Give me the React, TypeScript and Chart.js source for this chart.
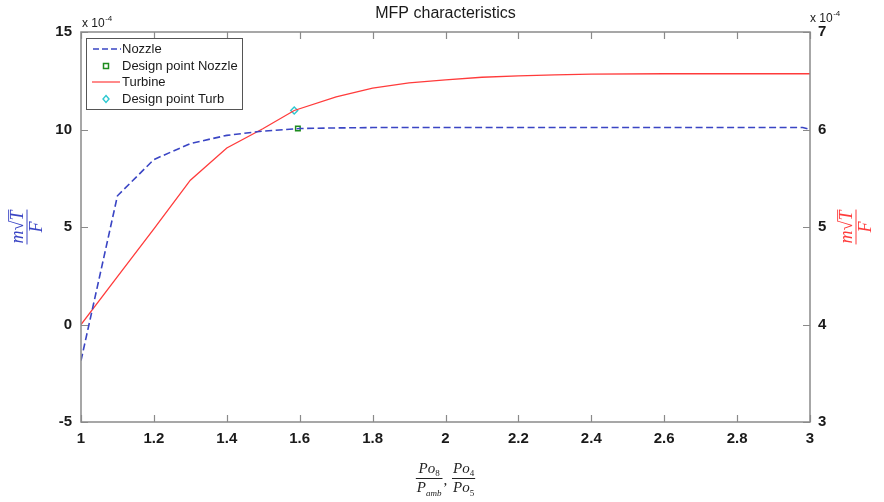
import React, { useEffect, useRef } from "react";
import { Chart, registerables } from "chart.js";

Chart.register(...registerables);

// ---- data (values in units of 1e-4) ----
const nozzleX = [1, 1.1, 1.2, 1.3, 1.4, 1.5, 1.6, 1.7, 1.8, 2.0, 2.2, 2.4, 2.6, 2.8, 2.98, 3.0];
const nozzleValues = [-1.85, 6.6, 8.46, 9.28, 9.7, 9.92, 10.05, 10.08, 10.1, 10.1, 10.1, 10.1, 10.1, 10.1, 10.1, 10.0];

const turbineX = [1, 1.1, 1.2, 1.3, 1.4, 1.5, 1.585, 1.7, 1.8, 1.9, 2.0, 2.1, 2.2, 2.3, 2.4, 2.6, 2.8, 3.0];
const turbineValues = [4.0, 4.49, 4.98, 5.48, 5.81, 6.01, 6.195, 6.335, 6.425, 6.478, 6.51, 6.536, 6.55, 6.56, 6.568, 6.572, 6.572, 6.572];

const designNozzleX = [1.595];
const designNozzleValues = [10.05];
const designTurbX = [1.585];
const designTurbValues = [6.195];

const xTicks = [1, 1.2, 1.4, 1.6, 1.8, 2, 2.2, 2.4, 2.6, 2.8, 3];
const leftTicks = [-5, 0, 5, 10, 15];
const rightTicks = [3, 4, 5, 6, 7];

const titleText = "MFP characteristics";
const legendLabels = ["Nozzle", "Design point Nozzle", "Turbine", "Design point Turb"];

const BLUE = "#3a45c4";
const RED = "#ff3b3b";
const GREEN = "#1e8c1e";
const CYAN = "#2ec8d0";
const AXIS = "#8a8a8a";
const TXT = "#1a1a1a";
const SANS = '"Liberation Sans", Arial, sans-serif';
const SERIF = '"Liberation Serif", "Times New Roman", serif';

type Seg = { t: string; sub?: boolean; over?: boolean; upright?: boolean };

function segFont(s: Seg, size: number) {
  const sz = s.sub ? Math.round(size * 0.62) : size;
  return `${s.upright ? "" : "italic "}${sz}px ${SERIF}`;
}

function richWidth(ctx: CanvasRenderingContext2D, segs: Seg[], size: number) {
  let w = 0;
  for (const s of segs) {
    ctx.font = segFont(s, size);
    w += ctx.measureText(s.t).width;
  }
  return w;
}

function drawRich(ctx: CanvasRenderingContext2D, segs: Seg[], x: number, base: number, size: number) {
  let cx = x;
  ctx.textAlign = "left";
  ctx.textBaseline = "alphabetic";
  for (const s of segs) {
    ctx.font = segFont(s, size);
    const w = ctx.measureText(s.t).width;
    const y = s.sub ? base + size * 0.25 : base;
    ctx.fillText(s.t, cx, y);
    if (s.over) {
      ctx.beginPath();
      ctx.lineWidth = 0.9;
      ctx.moveTo(cx - 1, base - size * 0.8);
      ctx.lineTo(cx + w + 1, base - size * 0.8);
      ctx.stroke();
    }
    cx += w;
  }
}

function fracWidth(ctx: CanvasRenderingContext2D, num: Seg[], den: Seg[], size: number) {
  return Math.max(richWidth(ctx, num, size), richWidth(ctx, den, size)) + 2;
}

function drawFraction(
  ctx: CanvasRenderingContext2D,
  cx: number,
  cy: number,
  num: Seg[],
  den: Seg[],
  size: number,
  gapTop: number,
  gapBot: number
) {
  const nw = richWidth(ctx, num, size);
  const dw = richWidth(ctx, den, size);
  const bw = Math.max(nw, dw) + 2;
  ctx.beginPath();
  ctx.lineWidth = 1;
  ctx.moveTo(cx - bw / 2, cy);
  ctx.lineTo(cx + bw / 2, cy);
  ctx.stroke();
  drawRich(ctx, num, cx - nw / 2, cy - gapTop, size);
  drawRich(ctx, den, cx - dw / 2, cy + size * 0.72 + gapBot, size);
}

const overlay = {
  id: "overlay",
  afterDatasetsDraw(chart: any) {
    const ctx: CanvasRenderingContext2D = chart.ctx;
    const { left, right, top, bottom } = chart.chartArea;
    const xs = chart.scales.x;
    const yl = chart.scales.y;
    const yr = chart.scales.y1;
    ctx.save();

    // box
    ctx.strokeStyle = AXIS;
    ctx.lineWidth = 1.5;
    ctx.strokeRect(left, top, right - left, bottom - top);

    // inward ticks
    ctx.lineWidth = 1.2;
    ctx.beginPath();
    for (const v of xTicks) {
      const px = Math.round(xs.getPixelForValue(v)) + 0.5;
      ctx.moveTo(px, bottom);
      ctx.lineTo(px, bottom - 7);
      ctx.moveTo(px, top);
      ctx.lineTo(px, top + 7);
    }
    for (const v of leftTicks) {
      const py = Math.round(yl.getPixelForValue(v)) + 0.5;
      ctx.moveTo(left, py);
      ctx.lineTo(left + 7, py);
    }
    for (const v of rightTicks) {
      const py = Math.round(yr.getPixelForValue(v)) + 0.5;
      ctx.moveTo(right, py);
      ctx.lineTo(right - 7, py);
    }
    ctx.stroke();

    // title
    ctx.fillStyle = TXT;
    ctx.font = `16px ${SANS}`;
    ctx.textAlign = "center";
    ctx.textBaseline = "middle";
    ctx.fillText(titleText, (left + right) / 2, 14);

    // exponent labels
    const drawExp = (x: number, y: number) => {
      ctx.fillStyle = TXT;
      ctx.textAlign = "left";
      ctx.textBaseline = "alphabetic";
      ctx.font = `12px ${SANS}`;
      ctx.fillText("x 10", x, y);
      const w = ctx.measureText("x 10").width;
      ctx.font = `8px ${SANS}`;
      ctx.fillText("-4", x + w + 0.5, y - 6);
    };
    drawExp(left + 1, 27);
    drawExp(right, 22);

    // y axis labels (fractions, rotated)
    const numY: Seg[] = [{ t: "m" }, { t: "√", upright: true }, { t: "T", over: true }];
    const denY: Seg[] = [{ t: "F" }];
    const midY = (top + bottom) / 2;
    const drawRot = (x: number, color: string) => {
      ctx.save();
      ctx.translate(x, midY);
      ctx.rotate(-Math.PI / 2);
      ctx.fillStyle = color;
      ctx.strokeStyle = color;
      drawFraction(ctx, 0, 0, numY, denY, 18, 4, 2);
      ctx.restore();
    };
    drawRot(27, BLUE);
    drawRot(856, RED);

    // x axis label
    const n1: Seg[] = [{ t: "Po" }, { t: "8", sub: true, upright: true }];
    const d1: Seg[] = [{ t: "P" }, { t: "amb", sub: true }];
    const n2: Seg[] = [{ t: "Po" }, { t: "4", sub: true, upright: true }];
    const d2: Seg[] = [{ t: "Po" }, { t: "5", sub: true, upright: true }];
    const xsz = 15;
    const w1 = fracWidth(ctx, n1, d1, xsz);
    const w2 = fracWidth(ctx, n2, d2, xsz);
    ctx.font = `${xsz}px ${SERIF}`;
    const cw = ctx.measureText(", ").width + 2;
    const total = w1 + cw + w2;
    const sx = (left + right) / 2 - total / 2;
    const barY = 478.5;
    ctx.fillStyle = "#222";
    ctx.strokeStyle = "#222";
    drawFraction(ctx, sx + w1 / 2, barY, n1, d1, xsz, 6, 3);
    ctx.font = `${xsz}px ${SERIF}`;
    ctx.textAlign = "left";
    ctx.textBaseline = "alphabetic";
    ctx.fillText(",", sx + w1 + 1, barY + 6);
    drawFraction(ctx, sx + w1 + cw + w2 / 2, barY, n2, d2, xsz, 6, 3);

    // legend
    const lx = 86.5, ly = 38.5, lw = 156, lh = 71;
    ctx.fillStyle = "#ffffff";
    ctx.fillRect(lx, ly, lw, lh);
    ctx.strokeStyle = "#555";
    ctx.lineWidth = 1;
    ctx.strokeRect(lx, ly, lw, lh);
    const rows = [49, 66, 82, 99];
    ctx.font = `13px ${SANS}`;
    ctx.textBaseline = "middle";
    ctx.textAlign = "left";
    rows.forEach((ry, i) => {
      if (i === 0) {
        ctx.strokeStyle = BLUE;
        ctx.lineWidth = 1.5;
        ctx.setLineDash([6, 3]);
        ctx.beginPath();
        ctx.moveTo(93, ry);
        ctx.lineTo(121, ry);
        ctx.stroke();
        ctx.setLineDash([]);
      } else if (i === 2) {
        ctx.strokeStyle = RED;
        ctx.lineWidth = 1.2;
        ctx.beginPath();
        ctx.moveTo(92, ry);
        ctx.lineTo(120, ry);
        ctx.stroke();
      } else if (i === 1) {
        ctx.strokeStyle = GREEN;
        ctx.lineWidth = 1.5;
        ctx.strokeRect(103.5, ry - 2.5, 5, 5);
      } else {
        ctx.strokeStyle = CYAN;
        ctx.lineWidth = 1.4;
        ctx.beginPath();
        ctx.moveTo(106, ry - 3.5);
        ctx.lineTo(109, ry);
        ctx.lineTo(106, ry + 3.5);
        ctx.lineTo(103, ry);
        ctx.closePath();
        ctx.stroke();
      }
      ctx.fillStyle = TXT;
      ctx.fillText(legendLabels[i], 122, ry + 0.5);
    });

    ctx.restore();
  },
};

const toPts = (xa: number[], ya: number[]) => xa.map((x, i) => ({ x, y: ya[i] }));

export default function App() {
  const ref = useRef<HTMLCanvasElement | null>(null);

  useEffect(() => {
    if (!ref.current) return;
    const fmt = (v: any) => {
      const r = Math.round(Number(v) * 10) / 10;
      return String(r);
    };
    const chart = new Chart(ref.current, {
      type: "line",
      data: {
        datasets: [
          {
            label: legendLabels[0],
            data: toPts(nozzleX, nozzleValues),
            yAxisID: "y",
            borderColor: BLUE,
            borderWidth: 1.6,
            borderDash: [7, 3.5],
            pointRadius: 0,
            tension: 0,
            fill: false,
          },
          {
            label: legendLabels[1],
            data: toPts(designNozzleX, designNozzleValues),
            yAxisID: "y",
            showLine: false,
            pointStyle: "rect",
            pointRadius: 3.2,
            pointBorderWidth: 1.5,
            pointBorderColor: GREEN,
            pointBackgroundColor: "rgba(0,0,0,0)",
          },
          {
            label: legendLabels[2],
            data: toPts(turbineX, turbineValues),
            yAxisID: "y1",
            borderColor: RED,
            borderWidth: 1.3,
            pointRadius: 0,
            tension: 0,
            fill: false,
          },
          {
            label: legendLabels[3],
            data: toPts(designTurbX, designTurbValues),
            yAxisID: "y1",
            showLine: false,
            pointStyle: "rectRot",
            pointRadius: 3.5,
            pointBorderWidth: 1.4,
            pointBorderColor: CYAN,
            pointBackgroundColor: "rgba(0,0,0,0)",
          },
        ],
      },
      options: {
        responsive: false,
        animation: false,
        devicePixelRatio: 1,
        layout: { padding: { top: 32, left: 0, right: 0, bottom: 0 } },
        plugins: {
          legend: { display: false },
          title: { display: false },
          tooltip: { enabled: false },
        },
        scales: {
          x: {
            type: "linear",
            min: 1,
            max: 3,
            afterFit: (s: any) => {
              s.height = 80;
            },
            afterBuildTicks: (s: any) => {
              s.ticks = xTicks.map((v) => ({ value: v }));
            },
            grid: { display: false, drawTicks: false },
            border: { display: false },
            ticks: {
              padding: 8,
              color: TXT,
              font: { family: SANS, size: 15, weight: "bold" },
              callback: fmt,
              maxRotation: 0,
              autoSkip: false,
            },
          },
          y: {
            type: "linear",
            position: "left",
            min: -5,
            max: 15,
            afterFit: (s: any) => {
              s.width = 81;
            },
            afterBuildTicks: (s: any) => {
              s.ticks = leftTicks.map((v) => ({ value: v }));
            },
            grid: { display: false, drawTicks: false },
            border: { display: false },
            ticks: {
              padding: 9,
              color: TXT,
              font: { family: SANS, size: 15, weight: "bold" },
              callback: fmt,
            },
          },
          y1: {
            type: "linear",
            position: "right",
            min: 3,
            max: 7,
            afterFit: (s: any) => {
              s.width = 74;
            },
            afterBuildTicks: (s: any) => {
              s.ticks = rightTicks.map((v) => ({ value: v }));
            },
            grid: { display: false, drawTicks: false },
            border: { display: false },
            ticks: {
              padding: 8,
              color: TXT,
              font: { family: SANS, size: 15, weight: "bold" },
              callback: fmt,
            },
          },
        },
      },
      plugins: [overlay],
    });
    return () => chart.destroy();
  }, []);

  return (
    <div style={{ position: "absolute", left: 0, top: 0, width: 884, height: 502, background: "#fff" }}>
      <canvas ref={ref} width={884} height={502} style={{ width: 884, height: 502 }} />
    </div>
  );
}
